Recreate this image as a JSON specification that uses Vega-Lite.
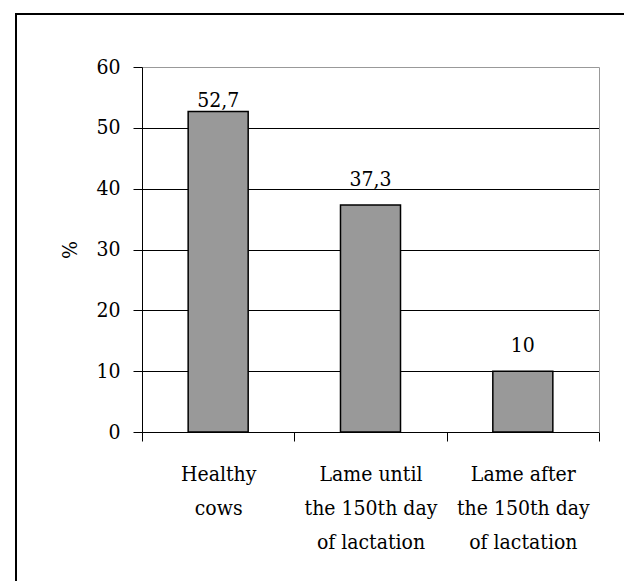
{
  "$schema": "https://vega.github.io/schema/vega-lite/v6.json",
  "width": 620,
  "height": 580,
  "autosize": "none",
  "padding": {"left": 16, "top": 14, "right": 0, "bottom": 0},
  "background": "white",
  "data": {
    "values": [
      {"group": "Healthy cows", "pct": 52.7},
      {"group": "Lame until the 150th day of lactation", "pct": 37.3},
      {"group": "Lame after the 150th day of lactation", "pct": 10}
    ]
  },
  "encoding": {
    "x": {
      "field": "group",
      "type": "nominal",
      "sort": null,
      "scale": {"range": [126, 583], "paddingInner": 0, "paddingOuter": 0},
      "axis": {
        "orient": "bottom",
        "offset": -162,
        "title": null,
        "grid": false,
        "labelAngle": 0,
        "tickBand": "extent",
        "tickSize": 9,
        "labelPadding": 22,
        "labelFontSize": 21,
        "labelLineHeight": 34,
        "labelLimit": 0,
        "labelExpr": "datum.label === 'Healthy cows' ? ['Healthy', 'cows'] : datum.label === 'Lame until the 150th day of lactation' ? ['Lame until', 'the 150th day', 'of lactation'] : datum.label === 'Lame after the 150th day of lactation' ? ['Lame after', 'the 150th day', 'of lactation'] : ''"
      }
    }
  },
  "layer": [
    {
      "mark": {"type": "bar", "width": {"band": 0.394}, "fill": "#999999", "stroke": "black", "strokeWidth": 1.5},
      "encoding": {
        "y": {
          "field": "pct",
          "type": "quantitative",
          "scale": {"domain": [0, 60], "range": [418, 53], "nice": false, "zero": true},
          "axis": {
            "orient": "left",
            "offset": -126,
            "values": [0, 10, 20, 30, 40, 50, 60],
            "grid": true,
            "gridColor": {"condition": {"test": "datum.value === 60", "value": "#999999"}, "value": "black"},
            "gridWidth": 1,
            "tickSize": 9,
            "labelPadding": 13,
            "labelFontSize": 21,
            "title": "%",
            "titleFontSize": 21,
            "titleFontWeight": "normal",
            "titleColor": "black",
            "titlePadding": 15
          }
        }
      }
    },
    {
      "transform": [{"filter": "datum.pct < 50"}],
      "mark": {"type": "text", "baseline": "alphabetic", "fontSize": 21, "color": "black", "dy": -19},
      "encoding": {
        "y": {
          "field": "pct",
          "type": "quantitative",
          "axis": {
            "orient": "right",
            "offset": -37,
            "labels": false,
            "ticks": false,
            "grid": false,
            "domainColor": "#999999",
            "title": null
          }
        },
        "text": {"field": "pct", "type": "quantitative", "format": "~g"}
      }
    },
    {
      "transform": [{"filter": "datum.pct >= 50"}],
      "mark": {"type": "text", "baseline": "alphabetic", "fontSize": 21, "color": "black", "dy": -4},
      "encoding": {
        "y": {"field": "pct", "type": "quantitative", "axis": null},
        "text": {"field": "pct", "type": "quantitative", "format": "~g"}
      }
    }
  ],
  "resolve": {"axis": {"y": "independent"}},
  "config": {
    "font": "DejaVu Serif Condensed",
    "text": {"font": "DejaVu Serif Condensed"},
    "view": {"stroke": "black", "strokeWidth": 2},
    "locale": {
      "number": {"decimal": ",", "thousands": " ", "grouping": [3], "currency": ["", ""]}
    },
    "axis": {
      "labelColor": "black",
      "domainColor": "black",
      "tickColor": "black",
      "labelFont": "DejaVu Serif Condensed",
      "titleFont": "DejaVu Serif Condensed"
    }
  }
}
